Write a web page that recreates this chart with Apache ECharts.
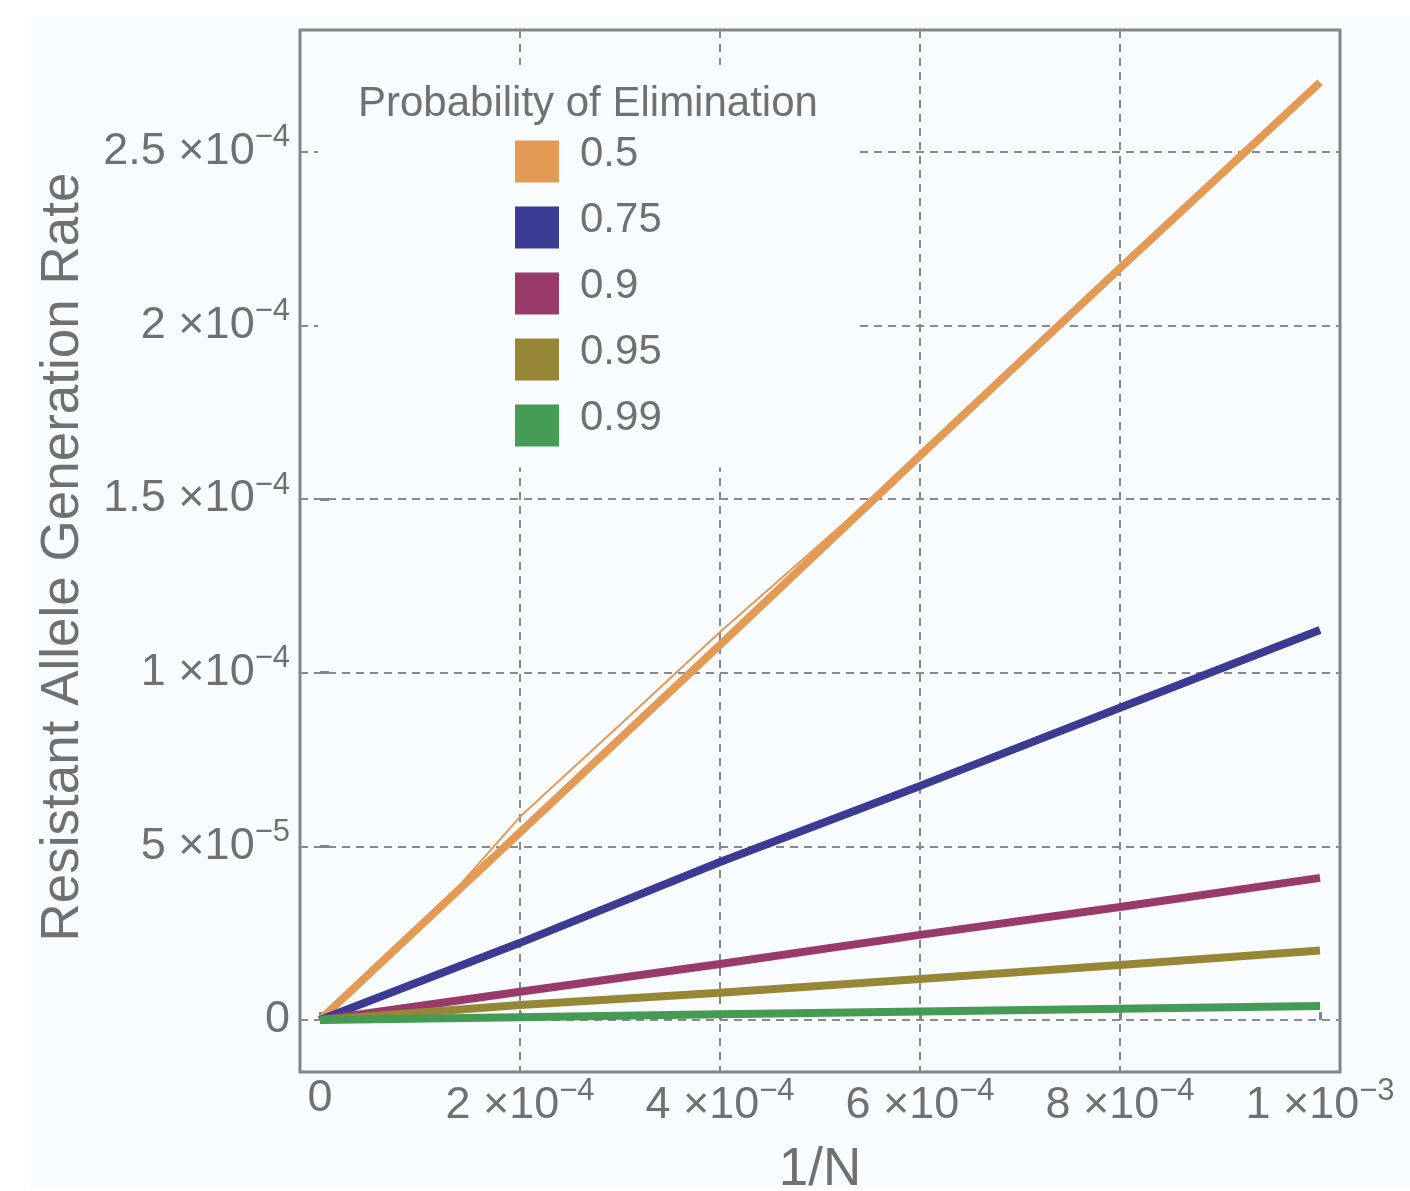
<!DOCTYPE html>
<html>
<head>
<meta charset="utf-8">
<script src="https://cdn.jsdelivr.net/npm/echarts@6/dist/echarts.min.js"></script>
<style>
    html, body { margin: 0; padding: 0; background: #ffffff; }
    #rateChart { width: 1410px; height: 1191px; }
</style>
</head>
<body>
<div id="rateChart"></div>
<script>
let rateChart = echarts.init(document.getElementById('rateChart'));

// 1/N sample points
const invN = [0, 0.0002, 0.0004, 0.0006, 0.0008, 0.001];

// resistant allele generation rate, one array per elimination probability
const rate050 = [0, 0.000054, 0.000108, 0.0001625, 0.0002165, 0.000270];
const rate075 = [0, 0.0000222, 0.0000455, 0.0000674, 0.0000899, 0.0001123];
const rate090 = [0, 0.0000081, 0.0000161, 0.0000245, 0.0000325, 0.0000409];
const rate095 = [0, 0.0000043, 0.0000078, 0.0000118, 0.0000158, 0.0000200];
const rate099 = [0, 0.0000008, 0.0000016, 0.0000024, 0.0000032, 0.0000040];

// second (thin) run for 0.5 that splits off from the thick line
const invNThin = [0, 0.00012, 0.0002, 0.0003, 0.0004, 0.0005, 0.0006, 0.001];
const rate050Thin = [0, 0.0000324, 0.0000585, 0.000085, 0.0001117, 0.000137, 0.0001625, 0.000270];

const probNames = ['0.5', '0.75', '0.9', '0.95', '0.99'];
const probColors = ['#e39a55', '#3b3b93', '#983a6a', '#978636', '#459a54'];

const xTickValues = [0, 0.0002, 0.0004, 0.0006, 0.0008, 0.001];
const xTickLabels = ['0', '2 ×10{sup|−4}', '4 ×10{sup|−4}', '6 ×10{sup|−4}', '8 ×10{sup|−4}', '1 ×10{sup|−3}'];
const xGridValues = [0.0002, 0.0004, 0.0006, 0.0008];
const yTickValues = [0, 0.00005, 0.0001, 0.00015, 0.0002, 0.00025];
const yTickLabels = ['0', '5 ×10{sup|−5}', '1 ×10{sup|−4}', '1.5 ×10{sup|−4}', '2 ×10{sup|−4}', '2.5 ×10{sup|−4}'];

function pairs(xs, ys) {
    return xs.map(function (x, i) { return [x, ys[i]]; });
}

function lookupLabel(values, labels, v) {
    for (let i = 0; i < values.length; i++) {
        if (Math.abs(values[i] - v) < 1e-12) return labels[i];
    }
    return '';
}

const textColor = '#707070';
const frameColor = '#858585';
const gridColor = '#8a8a8a';
const fontName = '"Liberation Sans", Arial, sans-serif';

const labelRich = {
    sup: {
        fontSize: 31,
        fontFamily: fontName,
        color: textColor,
        padding: [0, 0, 28, 0]
    }
};

function makeLine(name, xs, ys, color, width) {
    return {
        name: name,
        type: 'line',
        data: pairs(xs, ys),
        showSymbol: false,
        symbol: 'none',
        color: color,
        lineStyle: {width: width}
    };
}

let rateOption = {
    animation: false,
    backgroundColor: '#ffffff',
    graphic: [
        {
            type: 'rect',
            z: -10,
            shape: {x: 31, y: 18, width: 1379, height: 1170},
            style: {fill: '#f8fcfe'}
        }
    ],
    title: {
        text: 'Probability of Elimination',
        left: 358,
        top: 83,
        z: 10,
        padding: 0,
        textStyle: {
            fontFamily: fontName,
            fontSize: 42,
            fontWeight: 'normal',
            color: textColor
        }
    },
    legend: {
        data: probNames,
        orient: 'vertical',
        left: 318,
        top: 65,
        z: 8,
        padding: [68, 197, 21, 197],
        backgroundColor: '#f8fcfe',
        icon: 'rect',
        itemWidth: 44,
        itemHeight: 42,
        itemGap: 16.5,
        itemStyle: {borderWidth: 0},
        selectedMode: false,
        formatter: function (name) { return '{t|' + name + '}'; },
        textStyle: {
            fontFamily: fontName,
            fontSize: 42,
            color: textColor,
            padding: [0, 0, 0, 16],
            rich: {
                t: {
                    fontFamily: fontName,
                    fontSize: 42,
                    color: textColor,
                    padding: [0, 0, 15, 0]
                }
            }
        }
    },
    grid: {
        left: 300,
        width: 1040,
        top: 30,
        height: 1042,
        outerBoundsMode: 'none',
        containLabel: false,
        show: true,
        borderColor: frameColor,
        borderWidth: 3,
        backgroundColor: 'transparent'
    },
    xAxis: [
        {
            type: 'value',
            min: -0.00002,
            max: 0.00102,
            name: '1/N',
            nameLocation: 'middle',
            nameGap: 72,
            nameTextStyle: {fontFamily: fontName, fontSize: 53, color: textColor},
            axisLine: {show: false},
            axisTick: {
                show: true,
                inside: true,
                length: 8,
                customValues: xTickValues,
                lineStyle: {color: frameColor, width: 3}
            },
            axisLabel: {
                customValues: xTickValues,
                margin: 4,
                fontFamily: fontName,
                fontSize: 45,
                color: textColor,
                rich: labelRich,
                formatter: function (v) { return lookupLabel(xTickValues, xTickLabels, v); }
            },
            splitLine: {show: false}
        },
        {
            type: 'value',
            min: -0.00002,
            max: 0.00102,
            position: 'bottom',
            axisLine: {show: false},
            axisTick: {show: false, customValues: xGridValues},
            axisLabel: {show: false},
            splitLine: {
                show: true,
                lineStyle: {color: gridColor, width: 2, type: [8, 6]}
            }
        }
    ],
    yAxis: [
        {
            type: 'value',
            min: -0.000015,
            max: 0.0002851,
            name: 'Resistant Allele Generation Rate',
            nameLocation: 'middle',
            nameGap: 210,
            nameTextStyle: {
                fontFamily: fontName,
                fontSize: 53,
                color: textColor,
                padding: [0, 12, 0, 0]
            },
            axisLine: {show: false},
            axisTick: {
                show: true,
                inside: true,
                length: 9,
                customValues: yTickValues,
                lineStyle: {color: frameColor, width: 3}
            },
            axisLabel: {
                customValues: yTickValues,
                margin: 10,
                fontFamily: fontName,
                fontSize: 45,
                color: textColor,
                rich: labelRich,
                formatter: function (v) { return lookupLabel(yTickValues, yTickLabels, v); }
            },
            splitLine: {
                show: true,
                lineStyle: {color: gridColor, width: 2, type: [8, 6]}
            }
        }
    ],
    series: [
        makeLine('0.5', invN, rate050, probColors[0], 8),
        makeLine('0.5', invNThin, rate050Thin, probColors[0], 2),
        makeLine('0.75', invN, rate075, probColors[1], 8),
        makeLine('0.9', invN, rate090, probColors[2], 8),
        makeLine('0.95', invN, rate095, probColors[3], 8),
        makeLine('0.99', invN, rate099, probColors[4], 8)
    ]
};

rateChart.setOption(rateOption);

window.onresize = function () {
    rateChart.resize();
};
</script>
</body>
</html>
